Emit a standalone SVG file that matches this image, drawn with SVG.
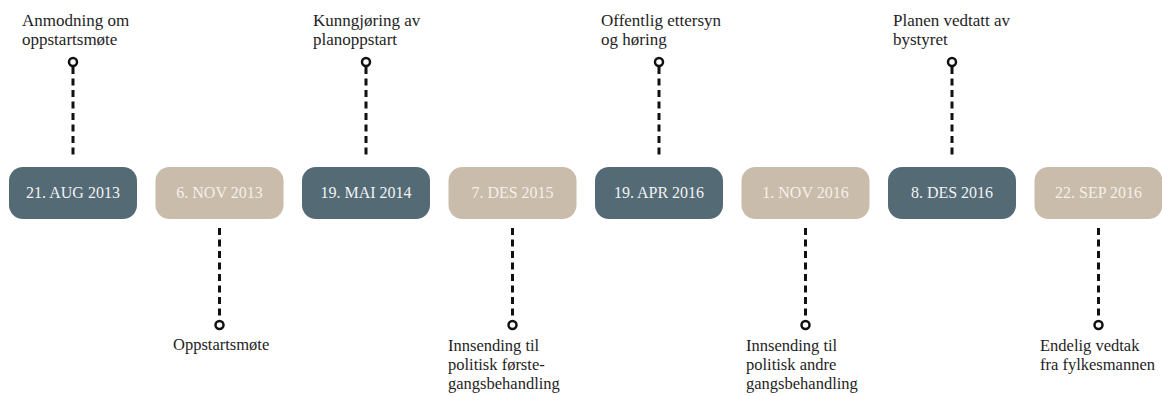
<svg xmlns="http://www.w3.org/2000/svg" width="1162" height="396" viewBox="0 0 1162 396">
<style>
.box{rx:14;ry:14}
.dark{fill:#546a75}
.light{fill:#c9bcab}
.bt{font-family:"Liberation Serif",serif;font-size:16px;text-anchor:middle}
.dt{fill:#f1f3f4}
.lt{fill:#f4f0ea}
.lbl{font-family:"Liberation Serif",serif;font-size:17px;fill:#1e1e1e}
.lb{font-size:16.5px}
.dash{stroke:#111;stroke-width:3;stroke-dasharray:7 4.5;fill:none}
.dot{fill:#fff;stroke:#111;stroke-width:2.5}
</style>
<rect width="1162" height="396" fill="#fff"/>
<g id="connectors">
<line class="dash" x1="73" y1="67" x2="73" y2="159"/>
<circle class="dot" cx="73" cy="62" r="4"/>
<line class="dash" x1="219.5" y1="228" x2="219.5" y2="320"/>
<circle class="dot" cx="219.5" cy="325" r="4"/>
<line class="dash" x1="366" y1="67" x2="366" y2="159"/>
<circle class="dot" cx="366" cy="62" r="4"/>
<line class="dash" x1="512.5" y1="228" x2="512.5" y2="320"/>
<circle class="dot" cx="512.5" cy="325" r="4"/>
<line class="dash" x1="659" y1="67" x2="659" y2="159"/>
<circle class="dot" cx="659" cy="62" r="4"/>
<line class="dash" x1="805.5" y1="228" x2="805.5" y2="320"/>
<circle class="dot" cx="805.5" cy="325" r="4"/>
<line class="dash" x1="952" y1="67" x2="952" y2="159"/>
<circle class="dot" cx="952" cy="62" r="4"/>
<line class="dash" x1="1098.5" y1="228" x2="1098.5" y2="320"/>
<circle class="dot" cx="1098.5" cy="325" r="4"/>
</g>
<g id="n1">
<rect class="box dark" x="9" y="167" width="128" height="52"/>
<text class="bt dt" x="73" y="198">21. AUG 2013</text>
<text class="lbl" x="22" y="26">Anmodning om</text>
<text class="lbl" x="22" y="45">oppstartsmøte</text>
</g>
<g id="n2">
<rect class="box light" x="155.5" y="167" width="128" height="52"/>
<text class="bt lt" x="219.5" y="198">6. NOV 2013</text>
<text class="lbl lb" x="173" y="350">Oppstartsmøte</text>
</g>
<g id="n3">
<rect class="box dark" x="302" y="167" width="128" height="52"/>
<text class="bt dt" x="366" y="198">19. MAI 2014</text>
<text class="lbl" x="313" y="26">Kunngjøring av</text>
<text class="lbl" x="313" y="45">planoppstart</text>
</g>
<g id="n4">
<rect class="box light" x="448.5" y="167" width="128" height="52"/>
<text class="bt lt" x="512.5" y="198">7. DES 2015</text>
<text class="lbl lb" x="448" y="351">Innsending til</text>
<text class="lbl lb" x="448" y="370">politisk første-</text>
<text class="lbl lb" x="448" y="389">gangsbehandling</text>
</g>
<g id="n5">
<rect class="box dark" x="595" y="167" width="128" height="52"/>
<text class="bt dt" x="659" y="198">19. APR 2016</text>
<text class="lbl" x="601" y="26">Offentlig ettersyn</text>
<text class="lbl" x="601" y="45">og høring</text>
</g>
<g id="n6">
<rect class="box light" x="741.5" y="167" width="128" height="52"/>
<text class="bt lt" x="805.5" y="198">1. NOV 2016</text>
<text class="lbl lb" x="746" y="351">Innsending til</text>
<text class="lbl lb" x="746" y="370">politisk andre</text>
<text class="lbl lb" x="746" y="389">gangsbehandling</text>
</g>
<g id="n7">
<rect class="box dark" x="888" y="167" width="128" height="52"/>
<text class="bt dt" x="952" y="198">8. DES 2016</text>
<text class="lbl" x="893" y="26">Planen vedtatt av</text>
<text class="lbl" x="893" y="45">bystyret</text>
</g>
<g id="n8">
<rect class="box light" x="1034.5" y="167" width="128" height="52"/>
<text class="bt lt" x="1098.5" y="198">22. SEP 2016</text>
<text class="lbl lb" x="1040" y="351">Endelig vedtak</text>
<text class="lbl lb" x="1040" y="370">fra fylkesmannen</text>
</g>
</svg>
